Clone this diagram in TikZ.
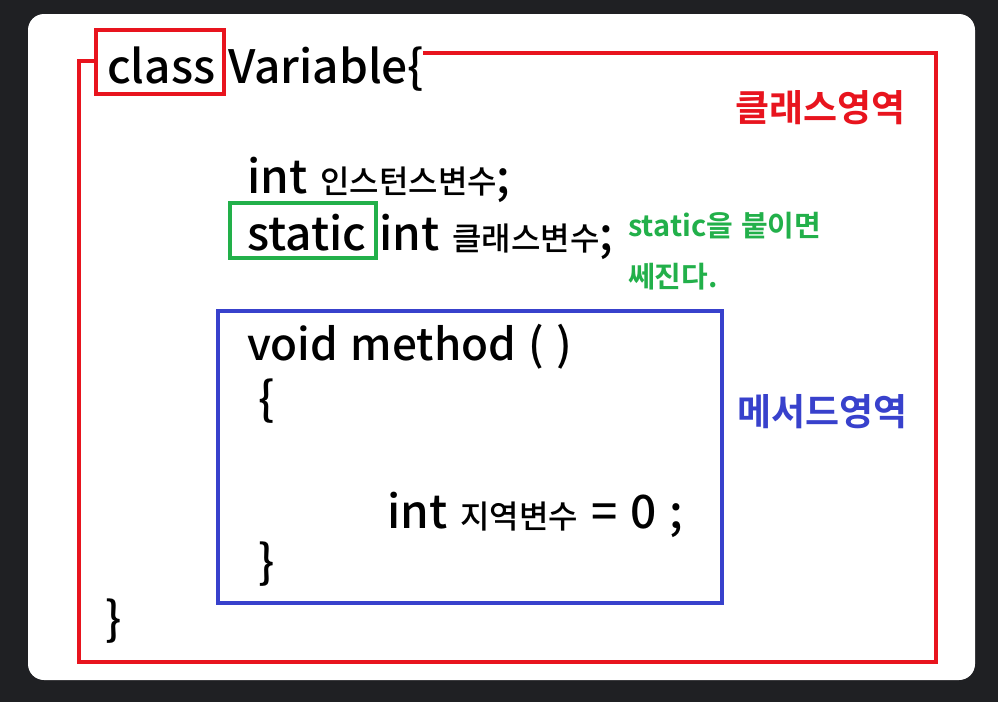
\documentclass[tikz,border=0pt]{standalone}
\usepackage{fontspec}
\setmainfont{Noto Sans CJK KR}[UprightFont=* Medium,BoldFont=* Bold,WordSpace=1.25]
\definecolor{bgdark}{HTML}{1F2023}
\definecolor{areared}{HTML}{E8141E}
\definecolor{areagreen}{HTML}{22B04A}
\definecolor{areablue}{HTML}{3841CC}
\newcommand{\codesize}{\fontsize{46}{46}\selectfont}
\newcommand{\kor}{\fontsize{32}{32}\selectfont}
\tikzset{
  code/.style={anchor=base west,inner sep=0pt,font=\codesize},
  area/.style={anchor=base east,inner sep=0pt,font=\fontsize{37}{37}\selectfont\bfseries},
  note/.style={anchor=base west,inner sep=0pt,font=\fontsize{29}{29}\selectfont\bfseries,text=areagreen},
  frame/.style={line width=3.2pt}
}
\begin{document}
\begin{tikzpicture}[x=1pt,y=-1pt]
\fill[bgdark] (0,0) rectangle (998,702);
\fill[white,rounded corners=16pt] (28,14) rectangle (975,680);

% class area
\draw[frame,areared] (96,61) -- (79,61) -- (79,662) -- (936,662) -- (936,53) -- (423,53);
\draw[frame,areared] (96,30) rectangle (224,94);
\node[code] (classline) at (107,83) {class Variable\{};
\node[area,text=areared] (classarea) at (906,121) {클래스영역};

% fields
\node[code] (instvar) at (247,193) {int {\kor 인스턴스변수};};
\node[code] (classvar) at (247,250) {static int {\kor 클래스변수};};
\draw[frame,areagreen] (230,203) rectangle (376,258);
\node[note] (staticnote) at (628,236) {static을 붙이면};
\node[note] (staticnote2) at (628,287) {쎄진다.};

% method area
\draw[frame,areablue] (218,311) rectangle (722,603);
\node[code,font=\fontsize{44}{44}\selectfont] (methodhead) at (247,360) {void method ( )};
\node[code] (methodopen) at (258,415) {\{};
\node[code] (localvar) at (387,528) {int {\kor 지역변수} = 0 ;};
\node[code] (methodclose) at (258,578) {\}};
\node[area,text=areablue] (methodarea) at (908,425) {메서드영역};

\node[code] (classclose) at (105,635) {\}};
\end{tikzpicture}
\end{document}
